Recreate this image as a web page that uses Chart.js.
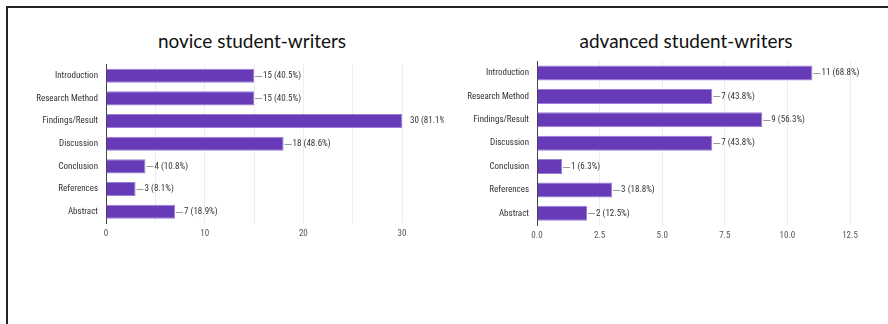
<!DOCTYPE html>
<html>
<head>
<meta charset="utf-8">
<script src="https://cdn.jsdelivr.net/npm/chart.js@4.4.0/dist/chart.umd.min.js"></script>
<style>
  body { margin: 0; background: #fff; width: 888px; height: 324px; overflow: hidden; position: relative; }
  #frame { position: absolute; left: 6px; top: 6px; right: -10px; bottom: -10px; border-top: 2px solid #222; border-left: 2px solid #222; }
  .ttl { position: absolute; top: 29px; font-family: Lato, "Open Sans", sans-serif; font-size: 19px; color: #111; text-align: center; }
  .box { position: absolute; }
</style>
</head>
<body>
<div id="frame"></div>
<div class="ttl" style="left:52px;width:400px">novice student-writers</div>
<div class="ttl" style="left:486px;width:400px">advanced student-writers</div>
<div class="box" style="left:10px;top:51px;width:434px;height:192px"><canvas id="novice"></canvas></div>
<div class="box" style="left:444px;top:48px;width:444px;height:197px"><canvas id="advanced"></canvas></div>
<script>
var sections = ["Introduction", "Research Method", "Findings/Result", "Discussion", "Conclusion", "References", "Abstract"];
var noviceCount = [15, 15, 30, 18, 4, 3, 7];
var novicePct = [40.5, 40.5, 81.1, 48.6, 10.8, 8.1, 18.9];
var advancedCount = [11, 7, 9, 7, 1, 3, 2];
var advancedPct = [68.8, 43.8, 56.3, 43.8, 6.3, 18.8, 12.5];

var narrow = '"Liberation Sans Narrow", "Roboto Condensed", "Liberation Sans", Arial, sans-serif';

var barLabels = {
  id: 'barLabels',
  afterDatasetsDraw: function(chart) {
    var ctx = chart.ctx;
    var pct = chart.options.plugins.barLabels.pct;
    var max = chart.scales.x.max;
    var data = chart.data.datasets[0].data;
    ctx.save();
    ctx.font = '9px ' + narrow;
    ctx.textBaseline = 'middle';
    chart.getDatasetMeta(0).data.forEach(function(el, i) {
      var txt = data[i] + ' (' + pct[i].toFixed(1) + '%)';
      if (data[i] >= max) {
        ctx.fillStyle = '#333';
        ctx.fillText(txt, el.x + 8, el.y);
        return;
      }
      ctx.strokeStyle = '#999';
      ctx.lineWidth = 1;
      ctx.beginPath();
      ctx.moveTo(el.x + 1, Math.round(el.y) + 0.5);
      ctx.lineTo(el.x + 8, Math.round(el.y) + 0.5);
      ctx.stroke();
      ctx.fillStyle = '#333';
      ctx.fillText(txt, el.x + 9, el.y);
    });
    ctx.restore();
  }
};

function makeChart(id, counts, pct, max, step, yWidth, padRight, barPct, fmt) {
  return new Chart(document.getElementById(id), {
    type: 'bar',
    data: {
      labels: sections,
      datasets: [{
        data: counts,
        backgroundColor: '#673ab7',
        borderColor: '#9a7fd6',
        borderWidth: 1,
        barPercentage: barPct,
        categoryPercentage: 1
      }]
    },
    options: {
      indexAxis: 'y',
      responsive: true,
      maintainAspectRatio: false,
      animation: false,
      layout: { padding: { top: 0, right: padRight, left: 0, bottom: 0 } },
      plugins: {
        legend: { display: false },
        tooltip: { enabled: false },
        barLabels: { pct: pct }
      },
      scales: {
        x: {
          min: 0, max: max,
          grid: { color: '#ececec', drawTicks: false },
          border: { display: false },
          ticks: {
            stepSize: step,
            padding: 5,
            color: '#555',
            font: { family: narrow, size: 9 },
            callback: fmt
          },
          afterFit: function(s) { s.height = 20; }
        },
        y: {
          grid: { display: false, drawTicks: false },
          border: { display: true, color: '#444', width: 1 },
          ticks: { color: '#333', padding: 8, font: { family: narrow, size: 9 } },
          afterFit: function(s) { s.width = yWidth; }
        }
      }
    },
    plugins: [barLabels]
  });
}

makeChart('novice', noviceCount, novicePct, 30, 5, 96, 42, 0.62, function(v) {
  return v % 10 === 0 ? String(v) : '';
});
makeChart('advanced', advancedCount, advancedPct, 12.5, 2.5, 93, 38, 0.64, function(v) {
  return v.toFixed(1);
});
</script>
</body>
</html>
